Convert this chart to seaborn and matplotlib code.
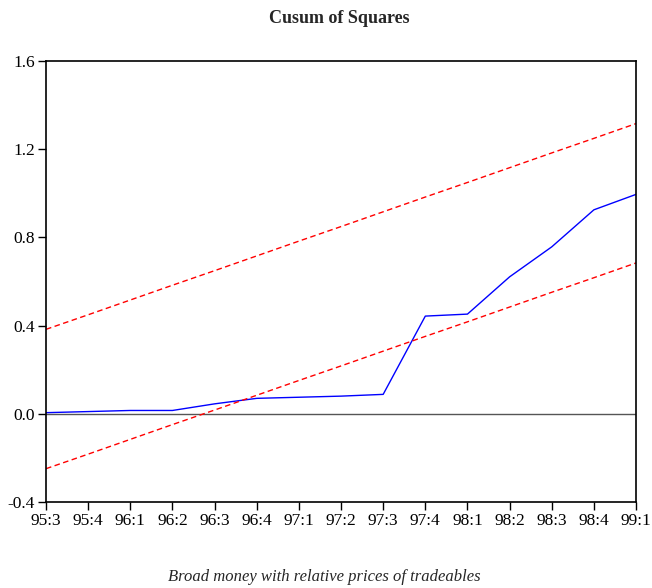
import pandas as pd
import matplotlib
matplotlib.use('Agg')
import matplotlib.pyplot as plt
import seaborn as sns

quarters = ['95:3', '95:4', '96:1', '96:2', '96:3', '96:4', '97:1', '97:2',
            '97:3', '97:4', '98:1', '98:2', '98:3', '98:4', '99:1']
cusum_sq = [0.005, 0.010, 0.015, 0.015, 0.045, 0.070, 0.075, 0.080,
            0.088, 0.443, 0.452, 0.621, 0.757, 0.925, 0.995]
upper_5 = [0.383, 0.449, 0.516, 0.583, 0.649, 0.716, 0.783, 0.849,
           0.916, 0.983, 1.049, 1.116, 1.183, 1.249, 1.316]
lower_5 = [-0.249, -0.183, -0.116, -0.049, 0.017, 0.084, 0.151, 0.217,
           0.284, 0.351, 0.417, 0.484, 0.551, 0.617, 0.684]

df = pd.DataFrame({'pos': range(len(quarters)), 'cusum': cusum_sq,
                   'upper': upper_5, 'lower': lower_5})

sns.set_style('ticks')
plt.rcParams['font.family'] = ['Liberation Serif', 'DejaVu Serif']

fig = plt.figure(figsize=(6.52, 5.88), dpi=100)
ax = fig.add_axes([0.0706, 0.1463, 0.9049, 0.75])

ax.axhline(0, color='#555555', lw=1.0, zorder=1)
sns.lineplot(data=df, x='pos', y='cusum', ax=ax, color='blue', lw=1.0)
sns.lineplot(data=df, x='pos', y='upper', ax=ax, color='red', lw=1.0,
             linestyle=(0, (4, 2.5)))
sns.lineplot(data=df, x='pos', y='lower', ax=ax, color='red', lw=1.0,
             linestyle=(0, (4, 2.5)))

ax.set_xlim(0, len(quarters) - 1)
ax.set_ylim(-0.4, 1.6)
ax.set_xticks(range(len(quarters)))
ax.set_xticklabels(quarters)
ax.set_yticks([-0.4, 0.0, 0.4, 0.8, 1.2, 1.6])
ax.set_yticklabels(['-0.4', '0.0', '0.4', '0.8', '1.2', '1.6'])
ax.set_xlabel('')
ax.set_ylabel('')
ax.tick_params(axis='both', direction='out', length=6, width=1,
               labelsize=12.5, colors='black', pad=2)
for s in ax.spines.values():
    s.set_visible(True)
    s.set_linewidth(1.2)
    s.set_color('black')

fig.text(0.52, 0.968, 'Cusum of Squares', ha='center', va='center',
         fontsize=13, fontweight='bold')
fig.text(0.498, 0.019, 'Broad money with relative prices of tradeables',
         ha='center', va='center', fontsize=12, style='italic')

fig.savefig('out.png', dpi=100)
